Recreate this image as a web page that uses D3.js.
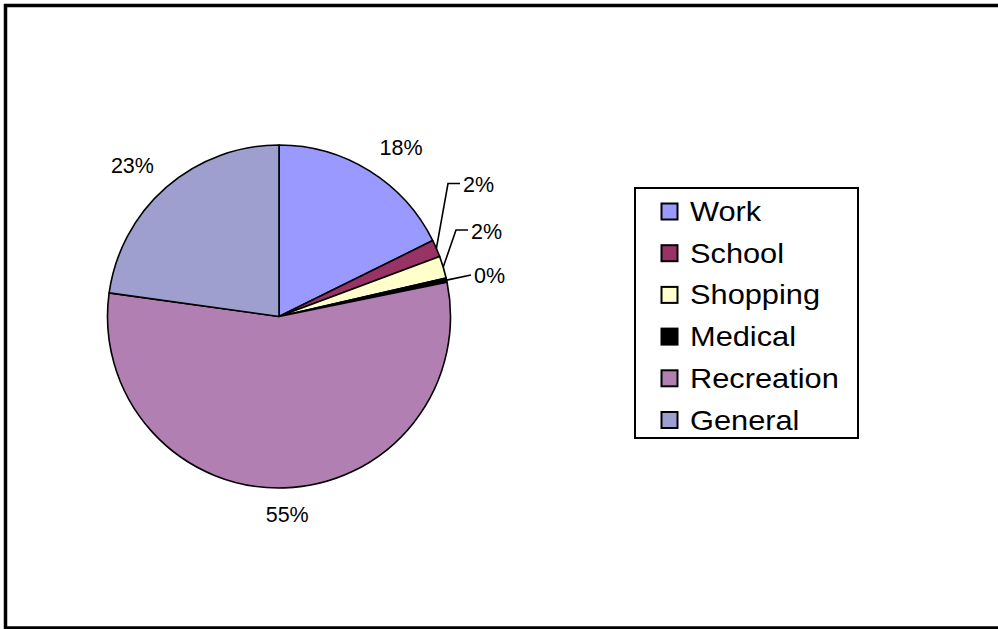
<!DOCTYPE html>
<html>
<head>
<meta charset="utf-8">
<script src="https://cdn.jsdelivr.net/npm/d3@7"></script>
<style>
  html, body { margin: 0; padding: 0; background: #fff; }
  svg { display: block; }
  text { font-family: "Liberation Sans", Arial, sans-serif; fill: #000; }
</style>
</head>
<body>
<svg id="chart" width="998" height="629"></svg>
<script>
// Trip purposes, share of trips (%)
const categories = ["Work", "School", "Shopping", "Medical", "Recreation", "General"];
const shares = [17.7, 1.6, 2.1, 0.4, 55.4, 22.8];
const colors = ["#9999FF", "#993366", "#FFFFCC", "#000000", "#B17FB2", "#9F9FCF"];

// Label placement for the thin slices that use leader lines (text left edge, text middle)
const leaderLabels = {
  "School":   { x: 463, y: 184.5, elbow: true },
  "Shopping": { x: 471, y: 231, elbow: true },
  "Medical":  { x: 474, y: 275.5, elbow: false }
};

const svg = d3.select("#chart");

// Outer frame
svg.append("rect")
  .attr("x", 5.5).attr("y", 5.5)
  .attr("width", 1010).attr("height", 622.5)
  .attr("fill", "none").attr("stroke", "#000").attr("stroke-width", 3.5);

const cx = 279, cy = 316.5, r = 171.5;
const total = d3.sum(shares);
const fmt = d3.format(".0%");

const data = categories.map((c, i) => ({ name: c, value: shares[i], color: colors[i] }));
const pie = d3.pie().value(d => d.value).sort(null).startAngle(0).endAngle(2 * Math.PI);
const arcs = pie(data);
const arc = d3.arc().innerRadius(0).outerRadius(r);

const g = svg.append("g").attr("transform", `translate(${cx},${cy})`);

g.selectAll("path.slice")
  .data(arcs)
  .enter().append("path")
  .attr("class", "slice")
  .attr("d", arc)
  .attr("fill", d => d.data.color)
  .attr("stroke", "#000")
  .attr("stroke-width", 1.6)
  .attr("stroke-linejoin", "round");

const fs = 21.5;
const digitHalf = 0.358 * fs;   // half the height of a digit
const labels = svg.append("g").attr("font-size", fs + "px");
const clamp = v => Math.max(-1, Math.min(1, v));

arcs.forEach(a => {
  const txt = fmt(a.data.value / total);
  const mid = (a.startAngle + a.endAngle) / 2;
  const ux = Math.sin(mid), uy = -Math.cos(mid);
  const ll = leaderLabels[a.data.name];
  if (ll) {
    // leader line from the slice rim to the label
    const sx = cx + r * ux, sy = cy + r * uy;
    const endX = ll.x - 3;
    const pts = ll.elbow
      ? [[sx, sy], [endX - 12, ll.y - 1], [endX, ll.y - 1]]
      : [[sx, sy], [endX, ll.y - 0.5]];
    labels.append("path")
      .attr("d", d3.line()(pts))
      .attr("fill", "none").attr("stroke", "#000").attr("stroke-width", 1.6);
    labels.append("text")
      .attr("x", ll.x).attr("y", ll.y + digitHalf)
      .text(txt);
  } else {
    // the label box's nearest corner sits on the slice bisector just outside the rim
    const ax = cx + (r + 19) * ux, ay = cy + (r + 19) * uy;
    const halfW = (txt.length === 3 ? 2.0 : 1.445) * fs / 2;
    const lx = ax + halfW * clamp(ux / 0.3);
    const ly = ay + digitHalf * clamp(uy / 0.3);
    labels.append("text")
      .attr("x", lx)
      .attr("y", ly + digitHalf)
      .attr("text-anchor", "middle")
      .text(txt);
  }
});

// Legend
const legend = svg.append("g");
legend.append("rect")
  .attr("x", 635).attr("y", 188)
  .attr("width", 223).attr("height", 250)
  .attr("fill", "#fff").attr("stroke", "#000").attr("stroke-width", 2);

const rowStep = 41.7, baseY = 221;
const rows = legend.selectAll("g.item")
  .data(data)
  .enter().append("g")
  .attr("class", "item")
  .attr("transform", (d, i) => `translate(0,${baseY + i * rowStep})`);

rows.append("rect")
  .attr("x", 661.5).attr("y", -17.5)
  .attr("width", 16).attr("height", 16)
  .attr("fill", d => d.color)
  .attr("stroke", "#000").attr("stroke-width", 2);

rows.append("text")
  .attr("transform", "translate(690,0) scale(1.14,1)")
  .attr("font-size", "27px")
  .text(d => d.name);
</script>
</body>
</html>
